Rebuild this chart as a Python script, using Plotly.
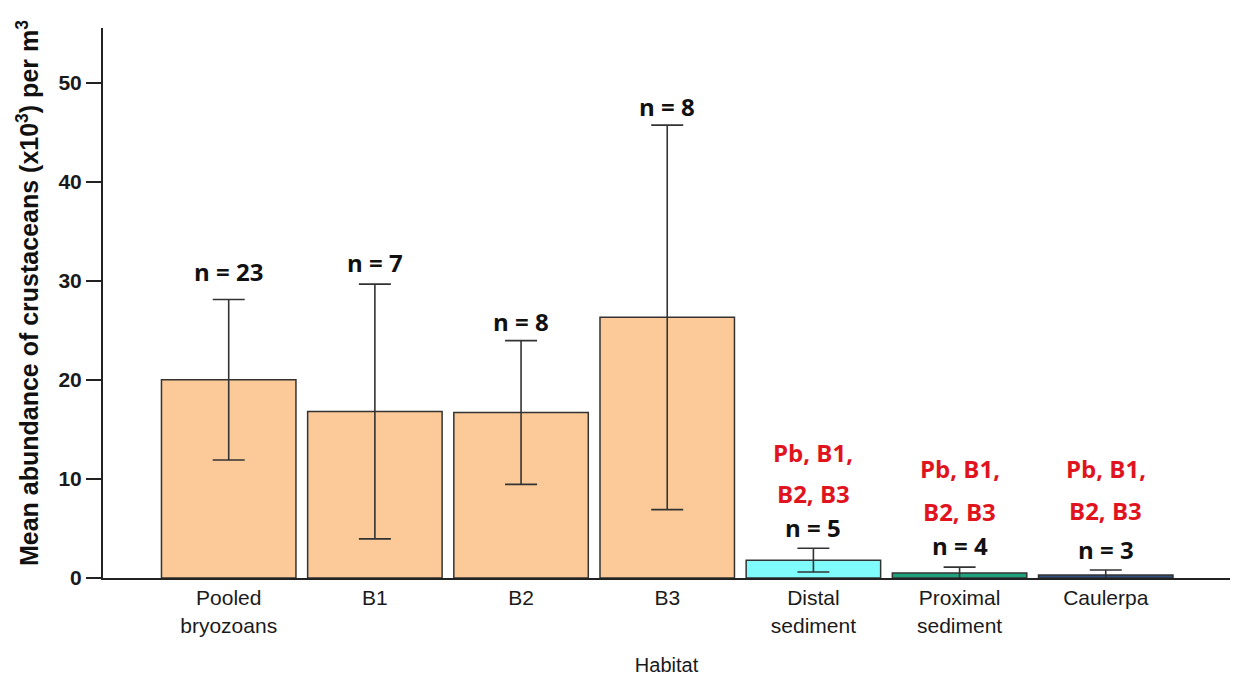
import plotly.graph_objects as go

categories = ["Pooled<br>bryozoans", "B1", "B2", "B3", "Distal<br>sediment", "Proximal<br>sediment", "Caulerpa"]
means = [20.0, 16.8, 16.7, 26.3, 1.8, 0.5, 0.3]
errors = [8.1, 12.85, 7.25, 19.4, 1.2, 0.6, 0.5]
n_labels = ["n = 23", "n = 7", "n = 8", "n = 8", "n = 5", "n = 4", "n = 3"]
n_label_y = [30.9, 31.8, 25.9, 47.6, 5.1, 3.3, 2.9]
sig_line1 = ["", "", "", "", "Pb, B1,", "Pb, B1,", "Pb, B1,"]
sig_line2 = ["", "", "", "", "B2, B3", "B2, B3", "B2, B3"]
sig_line1_y = [0, 0, 0, 0, 12.7, 11.1, 11.1]
sig_line2_y = [0, 0, 0, 0, 8.5, 6.7, 6.8]
bar_colors = ["#FBCA98", "#FBCA98", "#FBCA98", "#FBCA98", "#7FFBFB", "#1FA27E", "#2B4F7E"]
y_title = "<b>Mean abundance of crustaceans (x10<sup>3</sup>) per m<sup>3</sup></b>"

x_pos = list(range(len(categories)))

fig = go.Figure()
fig.add_trace(go.Bar(
    x=x_pos, y=means,
    marker=dict(color=bar_colors, line=dict(color="#333333", width=1.5)),
    width=0.92,
    error_y=dict(type="data", array=errors, visible=True, color="#333333", thickness=1.6, width=16),
    showlegend=False,
))

for i in x_pos:
    fig.add_annotation(x=i, y=n_label_y[i], xref="x", yref="y", text="<b>" + n_labels[i] + "</b>",
                       showarrow=False, font=dict(family="Open Sans", size=24, color="#111111"))
    if sig_line1[i]:
        fig.add_annotation(x=i, y=sig_line1_y[i], xref="x", yref="y", text="<b>" + sig_line1[i] + "</b>",
                           showarrow=False, font=dict(family="Open Sans", size=24, color="#E0141E"))
        fig.add_annotation(x=i, y=sig_line2_y[i], xref="x", yref="y", text="<b>" + sig_line2[i] + "</b>",
                           showarrow=False, font=dict(family="Open Sans", size=24, color="#E0141E"))

# y-axis title as a rotated annotation for precise placement
fig.add_annotation(x=-75 / 1127, y=0.518, xref="paper", yref="paper", text=y_title, textangle=-90,
                   showarrow=False, xanchor="center", yanchor="middle",
                   font=dict(size=25, family="Liberation Sans", color="#111111"))

fig.update_layout(
    width=1232, height=673,
    paper_bgcolor="white", plot_bgcolor="white",
    margin=dict(l=95, r=10, t=20, b=103),
    bargap=0.09,
    font=dict(family="Liberation Sans", color="#222222"),
)
fig.update_xaxes(
    range=[-0.86, 6.85], automargin=False,
    tickmode="array", tickvals=x_pos, ticktext=categories,
    tickfont=dict(size=21, family="Liberation Sans", color="#1a1a1a"),
    showline=True, linecolor="#222222", linewidth=2, ticks="", showgrid=False, zeroline=False,
    title=dict(text="Habitat", font=dict(size=20, family="Liberation Sans", color="#1a1a1a"), standoff=22),
)
fig.update_yaxes(
    range=[0, 55.5], automargin=False,
    tickmode="array", tickvals=[0, 10, 20, 30, 40, 50],
    tickfont=dict(size=21, family="Liberation Sans", color="#1a1a1a", weight="bold"),
    showline=True, linecolor="#222222", linewidth=2, ticks="outside", ticklen=15, tickwidth=1.5, tickcolor="#222222",
    showgrid=False, zeroline=False,
)

fig.write_html("out.html")
